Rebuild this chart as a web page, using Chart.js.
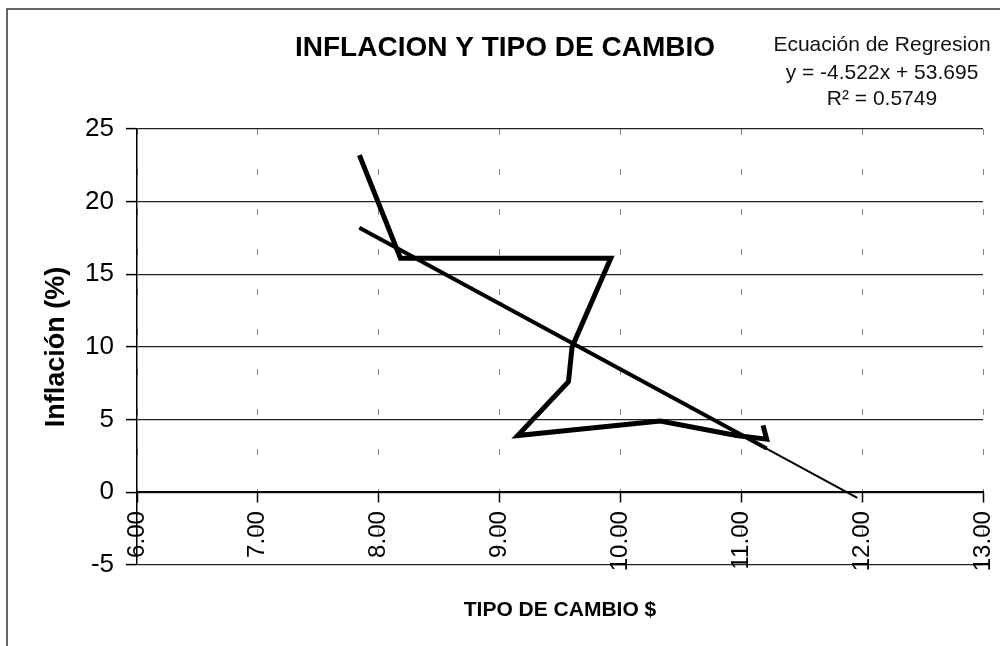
<!DOCTYPE html>
<html>
<head>
<meta charset="utf-8">
<script src="https://cdn.jsdelivr.net/npm/chart.js@4.4.1/dist/chart.umd.min.js"></script>
<style>
  html, body { margin: 0; padding: 0; background: #fff; }
  #wrap { width: 1000px; height: 646px; position: relative; }
</style>
</head>
<body>
<div id="wrap"><canvas id="c" width="1000" height="646"></canvas></div>
<script>
// ---- data ----
const tipoCambio = [7.84, 8.18, 9.92, 9.60, 9.57, 9.15, 10.33, 10.96, 11.21, 11.18];
const inflacion  = [23.2, 16.1, 16.1, 10.0, 7.6, 3.9, 4.9, 3.9, 3.65, 4.6];
const regDataX   = [7.84, 11.21];
const regDataY   = [18.2, 3.0];
const trendX     = [7.84, 11.96];
const trendY     = [18.2, -0.4];
const xTickLabels = ['6.00', '7.00', '8.00', '9.00', '10.00', '11.00', '12.00', '13.00'];
const yTickLabels = ['-5', '0', '5', '10', '15', '20', '25'];
const chartTitle = 'INFLACION Y TIPO DE CAMBIO';
const xTitle = 'TIPO DE CAMBIO $';
const yTitle = 'Inflación (%)';
const eqLines = ['Ecuación de Regresion', 'y = -4.522x + 53.695', 'R² = 0.5749'];

const FONT = "'Liberation Sans', Arial, Helvetica, sans-serif";
const toPts = (xs, ys) => xs.map((x, i) => ({ x: x, y: ys[i] }));

const framePlugin = {
  id: 'frame',
  beforeDraw(chart) {
    const ctx = chart.ctx;
    ctx.save();
    ctx.fillStyle = '#fff';
    ctx.fillRect(0, 0, chart.width, chart.height);
    ctx.strokeStyle = '#333';
    ctx.lineWidth = 1.5;
    ctx.beginPath();
    ctx.moveTo(7, chart.height);
    ctx.lineTo(7, 9);
    ctx.lineTo(chart.width, 9);
    ctx.stroke();
    ctx.restore();
  },
  afterDraw(chart) {
    const ctx = chart.ctx;
    ctx.save();
    ctx.fillStyle = '#111';
    ctx.font = '21px ' + FONT;
    ctx.textAlign = 'center';
    ctx.textBaseline = 'middle';
    const ys = [45, 73, 99];
    eqLines.forEach((t, i) => ctx.fillText(t, 882, ys[i]));
    ctx.restore();
  }
};

new Chart(document.getElementById('c'), {
  type: 'scatter',
  data: {
    datasets: [
      {
        label: 'Inflación',
        data: toPts(tipoCambio, inflacion),
        showLine: true,
        borderColor: '#000',
        borderWidth: 5,
        borderJoinStyle: 'miter',
        pointRadius: 0,
        tension: 0
      },
      {
        label: 'Regresión',
        data: toPts(regDataX, regDataY),
        showLine: true,
        borderColor: '#000',
        borderWidth: 4,
        pointRadius: 0
      },
      {
        label: 'Tendencia',
        data: toPts(trendX, trendY),
        showLine: true,
        borderColor: '#000',
        borderWidth: 2,
        pointRadius: 0
      }
    ]
  },
  options: {
    responsive: false,
    animation: false,
    devicePixelRatio: 1,
    layout: { autoPadding: false, padding: { left: 27, right: 17, top: 0, bottom: 0 } },
    plugins: {
      legend: { display: false },
      tooltip: { enabled: false },
      title: {
        display: true,
        text: chartTitle,
        color: '#000',
        font: { family: FONT, size: 28, weight: 'bold' },
        padding: { top: 31, bottom: 64.4 }
      },
      subtitle: {
        display: true,
        position: 'bottom',
        fullSize: false,
        text: xTitle,
        color: '#000',
        font: { family: FONT, size: 21, weight: 'bold' },
        padding: { top: 33, bottom: 23 }
      }
    },
    scales: {
      x: {
        type: 'linear',
        position: { y: 0 },
        min: 6,
        max: 13,
        afterFit(scale) { scale.paddingLeft = 0; scale.paddingRight = 0; },
        ticks: {
          stepSize: 1,
          minRotation: 90,
          maxRotation: 90,
          padding: 9,
          color: '#000',
          font: { family: FONT, size: 24 },
          callback: (v) => xTickLabels[Math.round(v - 6)]
        },
        grid: {
          color: '#888',
          lineWidth: 1,
          tickLength: 10,
          tickColor: '#000',
          tickWidth: 1.5,
          tickBorderDash: []
        },
        border: { display: true, color: '#000', width: 1.5, dash: [6, 34] }
      },
      y: {
        type: 'linear',
        position: 'left',
        min: -5,
        max: 25,
        afterFit(scale) { scale.width = 110; scale.paddingTop = 0; scale.paddingBottom = 0; },
        ticks: {
          stepSize: 5,
          padding: 12,
          color: '#000',
          font: { family: FONT, size: 26 },
          callback: (v) => yTickLabels[Math.round((v + 5) / 5)]
        },
        grid: {
          color: '#222',
          lineWidth: 1.2,
          tickLength: 11,
          tickColor: '#000',
          tickWidth: 1.5
        },
        border: { display: true, color: '#000', width: 1.5 },
        title: {
          display: true,
          text: yTitle,
          color: '#000',
          font: { family: FONT, size: 27, weight: 'bold' },
          padding: { top: 13, bottom: 0 }
        }
      }
    }
  },
  plugins: [framePlugin]
});
</script>
</body>
</html>
